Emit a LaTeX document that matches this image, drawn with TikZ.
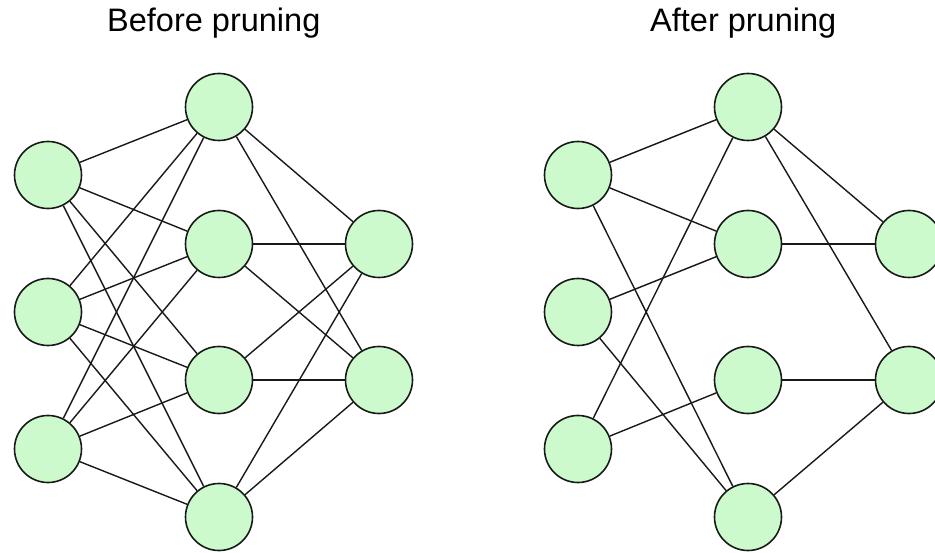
\documentclass[tikz,border=0pt]{standalone}
\usepackage{fontspec}
\setmainfont{Liberation Sans}
\definecolor{nodegreen}{RGB}{204,250,204}
\begin{document}
\begin{tikzpicture}[x=1pt,y=-1pt,
  neuron/.style={circle,draw=black!90,line width=1.6pt,fill=nodegreen,minimum size=67pt,inner sep=0pt},
  conn/.style={draw=black!90,line width=1.4pt},
  title/.style={font=\fontsize{32.5}{38}\selectfont,anchor=base west,inner sep=0pt}]
\clip (0,0) rectangle (935,553);
\fill[white] (0,0) rectangle (935,553);
\node[title] (t1) at (107,32) {Before pruning};
\node[title] (t2) at (650,32) {After pruning};
% Before
\node[neuron] (a1) at (48,175) {};
\node[neuron] (a2) at (48,312) {};
\node[neuron] (a3) at (48,449) {};
\node[neuron] (b1) at (219,107) {};
\node[neuron] (b2) at (219,244) {};
\node[neuron] (b3) at (219,380) {};
\node[neuron] (b4) at (219,517) {};
\node[neuron] (c1) at (379,244) {};
\node[neuron] (c2) at (379,380) {};
\foreach \i in {1,2,3}{\foreach \j in {1,2,3,4}{\draw[conn] (a\i) -- (b\j);}}
\foreach \j in {1,2,3,4}{\foreach \k in {1,2}{\draw[conn] (b\j) -- (c\k);}}
% After
\node[neuron] (p1) at (578,175) {};
\node[neuron] (p2) at (578,312) {};
\node[neuron] (p3) at (578,449) {};
\node[neuron] (q1) at (748,107) {};
\node[neuron] (q2) at (748,244) {};
\node[neuron] (q3) at (748,380) {};
\node[neuron] (q4) at (748,517) {};
\node[neuron] (r1) at (909,244) {};
\node[neuron] (r2) at (909,380) {};
\draw[conn] (p1) -- (q1);
\draw[conn] (p1) -- (q2);
\draw[conn] (p1) -- (q4);
\draw[conn] (p2) -- (q2);
\draw[conn] (p2) -- (q4);
\draw[conn] (p3) -- (q1);
\draw[conn] (p3) -- (q3);
\draw[conn] (q1) -- (r1);
\draw[conn] (q1) -- (r2);
\draw[conn] (q2) -- (r1);
\draw[conn] (q3) -- (r2);
\draw[conn] (q4) -- (r2);
\end{tikzpicture}
\end{document}
